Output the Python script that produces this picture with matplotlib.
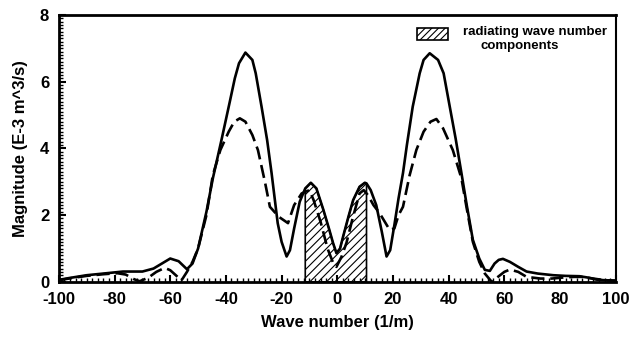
import matplotlib
matplotlib.use('Agg')
import matplotlib.pyplot as plt
import numpy as np
from matplotlib.patches import Rectangle
from matplotlib.ticker import MultipleLocator

plt.rcParams['font.family'] = ['Liberation Sans', 'DejaVu Sans']
plt.rcParams['font.weight'] = 'bold'
plt.rcParams['hatch.linewidth'] = 0.8
plt.rcParams['axes.unicode_minus'] = False

# solid curve
solid_x = [-100, -96, -90, -84, -77, -70, -66, -63, -60, -57, -54, -52, -50, -47, -44.7, -41.6,
           -38.6, -36.8, -35.3, -33, -30.5, -29.3, -27.2, -25.2, -23.6, -21.4, -20, -18.2, -17,
           -15.5, -13.5, -11.5, -9.5, -7.5, -5, -3, -1.5, -0.3, 1, 2.1, 4, 5.7, 8, 9.9, 10.5,
           12, 14, 16, 17.7, 19, 20.5, 22, 23.6, 25, 27.1, 29.6, 31, 33.2, 36.2, 38.2, 40.4,
           42.5, 44.6, 46.5, 48.7, 51, 53, 54.8, 56.5, 58, 59.5, 62, 65, 68, 72, 77.6, 82, 87,
           90, 93, 96, 100]
solid_y = [0.06, 0.12, 0.2, 0.25, 0.31, 0.31, 0.4, 0.55, 0.7, 0.62, 0.38, 0.55, 1.0, 2.1, 3.1, 4.25,
           5.4, 6.1, 6.55, 6.87, 6.65, 6.25, 5.25, 4.25, 3.26, 1.76, 1.2, 0.76, 0.95,
           1.6, 2.4, 2.8, 2.97, 2.8, 2.16, 1.6, 1.16, 0.86, 1.0, 1.36, 1.95, 2.45, 2.85, 2.97, 2.95,
           2.75, 2.3, 1.5, 0.76, 0.95, 1.7, 2.5, 3.26, 4.1, 5.25, 6.25, 6.65, 6.85, 6.65, 6.25, 5.25,
           4.3, 3.26, 2.3, 1.26, 0.7, 0.36, 0.33, 0.55, 0.66, 0.69, 0.6, 0.45, 0.31, 0.25, 0.2, 0.18, 0.17,
           0.13, 0.07, 0.05, 0.04]

# dashed curve
dash_x = [-100, -95, -90, -84, -79, -76, -73, -71, -68, -65, -62, -60, -58, -56, -54, -52, -50,
          -47, -44.7, -42, -39, -37, -35, -33, -30.5, -28.5, -26, -24.2, -21, -17.7, -15.5,
          -12.8, -10, -8.5, -6, -3.5, -1.5, -0.3, 1.5, 3.3, 5.5, 8, 9.5, 11, 13, 15.2, 18.8,
          20.5, 22, 23.6, 26, 28.4, 31, 33.5, 35.6, 38, 41.5, 44.6, 46.5, 48.7, 51, 53, 55.5,
          57.7, 60, 62, 65, 68, 73, 77, 81, 85, 88, 92, 96, 100]
dash_y = [0.05, 0.12, 0.18, 0.23, 0.26, 0.22, 0.08, 0.02, 0.12, 0.3, 0.42, 0.35, 0.2, 0.04, 0.3, 0.6, 1.0,
          2.0, 3.2, 3.95, 4.5, 4.8, 4.9, 4.8, 4.4, 3.95, 3.0, 2.25, 1.95, 1.76, 2.3,
          2.65, 2.75, 2.45, 1.8, 1.0, 0.57, 0.45, 0.75, 1.17, 1.9, 2.65, 2.75, 2.6, 2.3, 2.06, 1.56,
          1.6, 2.0, 2.25, 3.2, 3.95, 4.5, 4.8, 4.88, 4.6, 3.95, 3.1, 2.2, 1.2, 0.6, 0.25, 0.0,
          0.15, 0.3, 0.37, 0.3, 0.15, 0.1, 0.1, 0.13, 0.15, 0.15, 0.1, 0.05, 0.03]

radiating_lo, radiating_hi = -11.5, 10.5

fig = plt.figure(figsize=(6.4, 3.38), dpi=100)
ax = fig.add_axes([0.092, 0.166, 0.870, 0.79])

sx = np.array(solid_x)
sy = np.array(solid_y)
m = (sx >= radiating_lo) & (sx <= radiating_hi)
ax.fill_between(sx[m], 0, sy[m], facecolor='white', edgecolor='black', hatch='////', linewidth=1.2)

ax.plot(solid_x, solid_y, color='black', lw=1.9)
ax.plot(dash_x, dash_y, color='black', lw=1.9, dashes=(5, 2.2))

ax.set_xlim(-100, 100)
ax.set_ylim(0, 8)
ax.xaxis.set_major_locator(MultipleLocator(20))
ax.xaxis.set_minor_locator(MultipleLocator(2))
ax.yaxis.set_major_locator(MultipleLocator(2))
ax.yaxis.set_minor_locator(MultipleLocator(0.1))
ax.tick_params(which='both', direction='in', top=False, right=False, labelsize=12)
ax.tick_params(which='major', length=5, width=1.5, pad=7)
ax.tick_params(which='minor', length=3, width=1.0)
for s in ['left', 'top', 'bottom']:
    ax.spines[s].set_linewidth(2)
ax.spines['right'].set_linewidth(1.5)
for lab in ax.get_xticklabels() + ax.get_yticklabels():
    lab.set_fontweight('bold')

ax.set_xlabel('Wave number (1/m)', fontsize=12, fontweight='bold')
ax.set_ylabel('Magnitude (E-3 m^3/s)', fontsize=12, fontweight='bold')
ax.xaxis.set_label_coords(0.5, -0.125)
ax.yaxis.set_label_coords(-0.056, 0.5)

# legend for the hatched area
ax.add_patch(Rectangle((0.643, 0.906), 0.055, 0.045, transform=ax.transAxes,
                       facecolor='white', edgecolor='black', hatch='/////', lw=1.2))
ax.text(0.725, 0.936, 'radiating wave number', transform=ax.transAxes,
        fontsize=9.5, fontweight='bold', va='center', ha='left')
ax.text(0.828, 0.884, 'components', transform=ax.transAxes,
        fontsize=9.5, fontweight='bold', va='center', ha='center')

fig.savefig('out.png', dpi=100)
